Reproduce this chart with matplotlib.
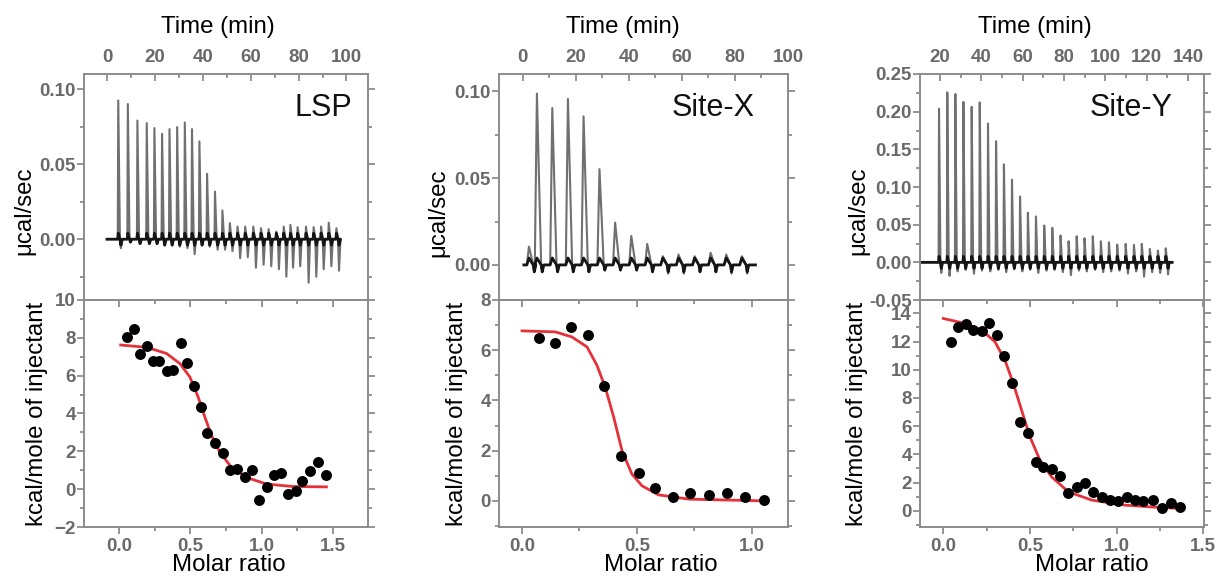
import matplotlib
matplotlib.use('Agg')
import matplotlib.pyplot as plt
import numpy as np
from matplotlib.ticker import MultipleLocator

plt.rcParams['font.family'] = ['Liberation Sans', 'DejaVu Sans']
plt.rcParams['font.weight'] = 'bold'

# ---- raw thermograms: injection times (min), peak heights and dips (ucal/sec)
lsp_inj_t = [4.7, 8.7, 12.7, 16.6, 19.8, 23.0, 26.1, 29.3, 32.5, 35.5, 38.6, 41.8, 45.1, 48.2, 51.3,
             54.5, 57.7, 61.1, 64.3, 67.5, 70.7, 73.8, 76.6, 79.6, 83.1, 86.3, 89.4, 92.6, 95.8]
lsp_peak = [0.0924, 0.090, 0.079, 0.0773, 0.074, 0.0702, 0.0733, 0.0747, 0.0777, 0.0733, 0.0651, 0.0435,
            0.0317, 0.0191, 0.0107, 0.0084, 0.0084, 0.0084, 0.0073, 0.0067, 0.005, 0.0084, 0.0095, 0.008,
            0.0084, 0.008, 0.0084, 0.011, 0.0073]
lsp_dip = [-0.006, -0.002, -0.003, -0.003, -0.003, -0.004, -0.004, -0.005, -0.006, -0.010, -0.004, -0.005,
           -0.007, -0.007, -0.008, -0.0127, -0.012, -0.019, -0.017, -0.018, -0.020, -0.025, -0.019, -0.018,
           -0.029, -0.025, -0.020, -0.018, -0.021]

sx_inj_t = [2.3, 5.3, 11.1, 17.0, 22.9, 28.9, 34.8, 40.9, 46.9, 52.8, 58.7, 64.8, 70.8, 76.7, 82.6]
sx_peak = [0.0106, 0.0987, 0.0904, 0.0956, 0.0856, 0.0552, 0.0244, 0.0167, 0.0121, 0.005, 0.006,
           0.005, 0.007, 0.006, 0.005]
sx_dip = [-0.004, -0.004, -0.004, -0.004, -0.004, -0.003, -0.003, -0.003, -0.004, -0.005, -0.005,
          -0.004, -0.004, -0.005, -0.005]

sy_inj_t = [19.5, 23.5, 27.4, 31.3, 35.3, 39.2, 43.2, 47.1, 50.9, 54.8, 58.7, 62.5, 66.4, 70.4, 74.3,
            78.3, 82.2, 86.1, 89.9, 93.9, 97.8, 101.7, 105.7, 109.8, 113.8, 117.6, 121.5, 125.4, 129.2]
sy_peak = [0.204, 0.2256, 0.2234, 0.213, 0.2064, 0.2123, 0.1843, 0.1608, 0.130, 0.1097, 0.0875, 0.0658,
           0.0609, 0.0489, 0.0458, 0.0356, 0.028, 0.0346, 0.032, 0.0346, 0.028, 0.0266, 0.0236, 0.0245,
           0.0232, 0.0245, 0.0178, 0.0156, 0.0186]
sy_dip = [-0.014, -0.018, -0.012, -0.010, -0.015, -0.011, -0.012, -0.010, -0.013, -0.009, -0.012, -0.010,
          -0.014, -0.011, -0.010, -0.013, -0.017, -0.011, -0.012, -0.010, -0.013, -0.012, -0.011, -0.015,
          -0.012, -0.019, -0.013, -0.014, -0.016]

# ---- integrated heats: molar ratio vs kcal/mole of injectant
lsp_ratio = [0.054, 0.105, 0.147, 0.194, 0.236, 0.282, 0.334, 0.380, 0.432, 0.478, 0.527, 0.574, 0.618,
             0.672, 0.726, 0.777, 0.828, 0.882, 0.929, 0.982, 1.034, 1.085, 1.134, 1.185, 1.237, 1.286,
             1.337, 1.395, 1.454]
lsp_heat = [8.04, 8.46, 7.13, 7.59, 6.76, 6.76, 6.23, 6.28, 7.73, 6.67, 5.45, 4.34, 2.96, 2.46, 1.93,
            1.01, 1.04, 0.62, 1.01, -0.58, 0.12, 0.76, 0.88, -0.27, -0.09, 0.41, 0.97, 1.42, 0.74]
lsp_fit_x = [0.012, 0.194, 0.334, 0.427, 0.497, 0.555, 0.602, 0.649, 0.707, 0.789, 0.894, 1.034, 1.22, 1.454]
lsp_fit_y = [7.62, 7.50, 7.17, 6.64, 5.93, 4.87, 3.81, 2.83, 1.95, 1.15, 0.62, 0.27, 0.14, 0.12]

sx_ratio = [0.072, 0.145, 0.213, 0.286, 0.358, 0.430, 0.507, 0.580, 0.657, 0.732, 0.812, 0.891, 0.971, 1.051]
sx_heat = [6.49, 6.27, 6.91, 6.60, 4.59, 1.77, 1.11, 0.51, 0.16, 0.32, 0.24, 0.33, 0.17, 0.03]
sx_fit_x = [0.0, 0.145, 0.217, 0.283, 0.326, 0.362, 0.399, 0.435, 0.478, 0.522, 0.594, 0.725, 1.051]
sx_fit_y = [6.77, 6.73, 6.53, 6.13, 5.40, 4.53, 3.33, 2.00, 1.07, 0.60, 0.24, 0.07, 0.0]

sy_ratio = [0.044, 0.087, 0.129, 0.173, 0.221, 0.263, 0.308, 0.352, 0.398, 0.442, 0.487, 0.533, 0.577,
            0.625, 0.673, 0.721, 0.769, 0.817, 0.865, 0.913, 0.962, 1.010, 1.058, 1.106, 1.154, 1.208,
            1.260, 1.313, 1.365]
sy_heat = [11.99, 13.05, 13.24, 12.82, 12.77, 13.34, 12.46, 10.97, 9.08, 6.31, 5.53, 3.48, 3.12, 2.96,
           2.48, 1.28, 1.70, 1.94, 1.35, 0.99, 0.80, 0.71, 0.99, 0.80, 0.69, 0.76, 0.17, 0.52, 0.28]
sy_fit_x = [0.0, 0.125, 0.221, 0.298, 0.356, 0.404, 0.452, 0.500, 0.558, 0.625, 0.721, 0.856, 1.048, 1.24, 1.365]
sy_fit_y = [13.64, 13.29, 12.82, 11.99, 10.69, 9.03, 7.14, 5.25, 3.59, 2.41, 1.35, 0.76, 0.40, 0.24, 0.17]

names = ['LSP', 'Site-X', 'Site-Y']

spine_c = '#8c8c8c'
label_c = '#6a6a6a'


def build_trace(t0, t1, inj_t, peak, dip, rise, fall):
    t = [t0]
    v = [0.0]
    for ti, pi, di in zip(inj_t, peak, dip):
        t += [ti - rise, ti, ti + fall, ti + fall + 0.4, ti + fall + 1.0]
        v += [0.0, pi, 0.0, di, 0.0]
    t.append(t1)
    v.append(0.0)
    return np.array(t), np.array(v)


def style(ax):
    for s in ax.spines.values():
        s.set_color(spine_c)
        s.set_linewidth(1.4)
    ax.tick_params(which='both', colors=spine_c, labelcolor=label_c, labelsize=13.5, width=1.3)
    ax.tick_params(which='major', length=5)
    ax.tick_params(which='minor', length=3)
    ax.tick_params(axis='y', which='both', left=True, right=True, direction='out', pad=1)


fig = plt.figure(figsize=(12.16, 5.77), dpi=100)

W, H = 1216.0, 577.0
lefts = [84, 499, 920]
rights = [368, 788, 1204]
top_px, mid_px, bot_px = 74, 300, 527

traces = [
    build_trace(0.0, 97.2, lsp_inj_t, lsp_peak, lsp_dip, 0.2, 0.7),
    build_trace(0.4, 87.7, sx_inj_t, sx_peak, sx_dip, 0.8, 1.6),
    build_trace(10.3, 132.3, sy_inj_t, sy_peak, sy_dip, 0.2, 0.7),
]
clips = [0.004, 0.004, 0.008]
trace_xlim = [(-9.6, 109), (-9, 100), (10.3, 147.7)]
trace_ylim = [(-0.0405, 0.110), (-0.0202, 0.110), (-0.05, 0.25)]
trace_ymaj = [0.05, 0.05, 0.05]
trace_ymin = [0.025, 0.025, 0.025]
trace_xmaj = [20, 20, 20]

pts = [(lsp_ratio, lsp_heat, lsp_fit_x, lsp_fit_y),
       (sx_ratio, sx_heat, sx_fit_x, sx_fit_y),
       (sy_ratio, sy_heat, sy_fit_x, sy_fit_y)]
heat_xlim = [(-0.245, 1.745), (-0.1, 1.157), (-0.134, 1.504)]
heat_ylim = [(-2, 10), (-1.04, 8), (-1.15, 14.95)]

ucal_x = [-0.211, -0.211, -0.218]
ucal_y = [0.394, 0.385, 0.394]
kcal_x = [-0.165, -0.145, -0.222]
time_x = [0.473, 0.43, 0.405]
molar_x = [0.51, 0.56, 0.604]
name_x = [0.944, 0.886, 0.891]

for i in range(3):
    l = lefts[i] / W
    w = (rights[i] - lefts[i]) / W
    ax1 = fig.add_axes([l, 1 - mid_px / H, w, (mid_px - top_px) / H])
    ax2 = fig.add_axes([l, 1 - bot_px / H, w, (bot_px - mid_px) / H])

    # raw heat trace
    t, v = traces[i]
    ax1.plot(t, v, color='#707070', lw=1.5)
    ax1.plot(t, np.clip(v, -clips[i], clips[i]), color='#151515', lw=2.0)
    ax1.set_xlim(*trace_xlim[i])
    ax1.set_ylim(*trace_ylim[i])
    style(ax1)
    ax1.xaxis.tick_top()
    ax1.tick_params(axis='x', which='both', top=True, bottom=False, labeltop=True,
                    labelbottom=False, direction='in', pad=6)
    ax1.xaxis.set_major_locator(MultipleLocator(trace_xmaj[i]))
    ax1.xaxis.set_minor_locator(MultipleLocator(10))
    ax1.yaxis.set_major_locator(MultipleLocator(trace_ymaj[i]))
    ax1.yaxis.set_minor_locator(MultipleLocator(trace_ymin[i]))
    ax1.yaxis.set_major_formatter(matplotlib.ticker.FormatStrFormatter('%.2f'))
    ax1.spines['bottom'].set_visible(False)
    ax1.set_xlabel('Time (min)', fontsize=17.3, fontweight='normal', va='baseline')
    ax1.xaxis.set_label_position('top')
    ax1.xaxis.set_label_coords(time_x[i], 1.18)
    ax1.set_ylabel('\u03bccal/sec', fontsize=17.3, fontweight='normal', va='center')
    ax1.yaxis.set_label_coords(ucal_x[i], ucal_y[i])
    ax1.text(name_x[i], 0.815, names[i], transform=ax1.transAxes, ha='right', va='baseline',
             fontsize=22, fontweight='normal', color='#111111')

    # integrated heats with fit
    rx, hy, fx, fy = pts[i]
    ax2.plot(fx, fy, color='#e5323a', lw=2.0, zorder=2)
    ax2.scatter(rx, hy, s=62, color='black', zorder=3, linewidths=0)
    ax2.set_xlim(*heat_xlim[i])
    ax2.set_ylim(*heat_ylim[i])
    style(ax2)
    ax2.tick_params(axis='x', which='both', top=False, bottom=True, direction='out', pad=3)
    ax2.xaxis.set_major_locator(MultipleLocator(0.5))
    ax2.xaxis.set_minor_locator(MultipleLocator(0.25))
    ax2.xaxis.set_major_formatter(matplotlib.ticker.FormatStrFormatter('%.1f'))
    ax2.yaxis.set_major_locator(MultipleLocator(2))
    ax2.yaxis.set_minor_locator(MultipleLocator(1))
    sec = ax2.secondary_xaxis('top')
    sec.xaxis.set_major_locator(MultipleLocator(0.5))
    sec.xaxis.set_minor_locator(MultipleLocator(0.25))
    sec.tick_params(which='both', direction='in', labeltop=False, colors=spine_c, width=1.3)
    sec.tick_params(which='major', length=5)
    sec.tick_params(which='minor', length=3)
    sec.spines['top'].set_color(spine_c)
    sec.spines['top'].set_linewidth(1.4)
    ax2.set_xlabel('Molar ratio', fontsize=17.3, fontweight='normal', va='top')
    ax2.xaxis.set_label_coords(molar_x[i], -0.118)
    ax2.set_ylabel('kcal/mole of injectant', fontsize=17.3, fontweight='normal', va='center')
    ax2.yaxis.set_label_coords(kcal_x[i], 0.5)

fig.savefig('out.png', dpi=100)
